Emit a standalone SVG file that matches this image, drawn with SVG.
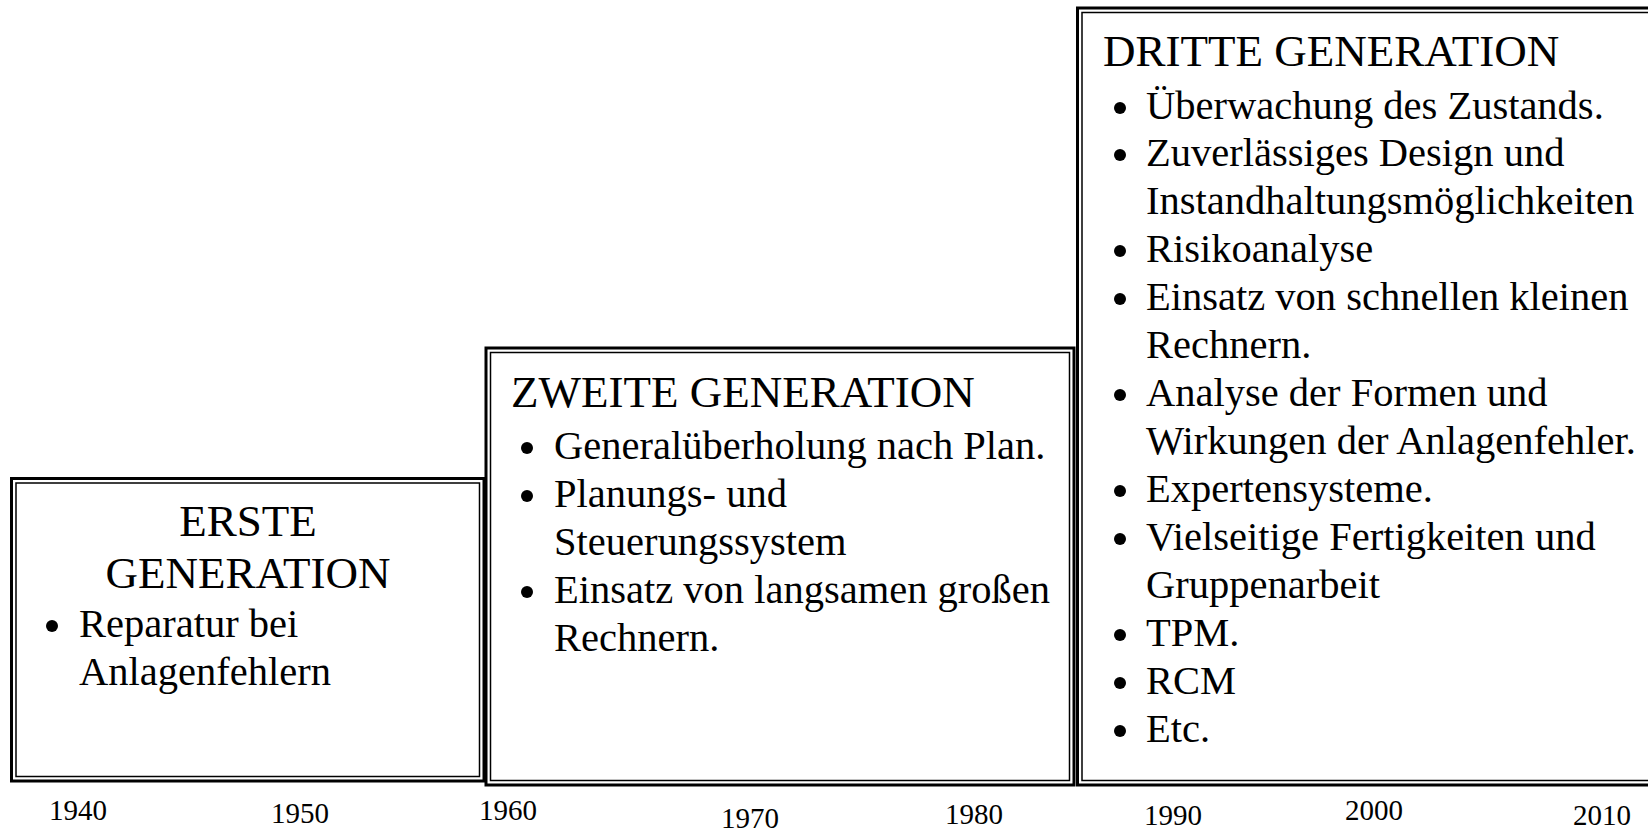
<svg xmlns="http://www.w3.org/2000/svg" width="1648" height="835" viewBox="0 0 1648 835">
<style>
.o{fill:none;stroke:#000;stroke-width:3}
.i{fill:none;stroke:#000;stroke-width:1.5}
text{font-family:"Liberation Serif","Times New Roman",serif;fill:#000}
.t{font-size:45px}
.b{font-size:40.5px}
.y{font-size:29px}
.d{fill:#000}
</style>
<rect width="1648" height="835" fill="#fff"/>
<g id="erste">
<rect class="o" x="11.5" y="478.5" width="472.5" height="302.5"/>
<rect class="i" x="16" y="483" width="463.5" height="293.5"/>
<text class="t" x="248" y="536" text-anchor="middle">ERSTE</text>
<text class="t" x="248" y="588" text-anchor="middle">GENERATION</text>
<circle class="d" cx="52" cy="626" r="6"/>
<text class="b" x="79" y="637">Reparatur bei</text>
<text class="b" x="79" y="685">Anlagenfehlern</text>
</g>
<g id="zweite">
<rect class="o" x="486" y="348" width="588" height="437"/>
<rect class="i" x="490.5" y="352.5" width="579" height="428"/>
<text class="t" x="511" y="407">ZWEITE GENERATION</text>
<circle class="d" cx="527" cy="448" r="6"/>
<text class="b" x="554" y="459">Generalüberholung nach Plan.</text>
<circle class="d" cx="527" cy="496" r="6"/>
<text class="b" x="554" y="507">Planungs- und</text>
<text class="b" x="554" y="555">Steuerungssystem</text>
<circle class="d" cx="527" cy="592" r="6"/>
<text class="b" x="554" y="603">Einsatz von langsamen großen</text>
<text class="b" x="554" y="651">Rechnern.</text>
</g>
<g id="dritte">
<rect class="o" x="1077.5" y="8" width="640" height="777"/>
<rect class="i" x="1082" y="12.5" width="640" height="768"/>
<text class="t" x="1103" y="66">DRITTE GENERATION</text>
<circle class="d" cx="1120" cy="108" r="6"/>
<text class="b" x="1146" y="119">Überwachung des Zustands.</text>
<circle class="d" cx="1120" cy="155" r="6"/>
<text class="b" x="1146" y="166">Zuverlässiges Design und</text>
<text class="b" x="1146" y="214">Instandhaltungsmöglichkeiten</text>
<circle class="d" cx="1120" cy="251" r="6"/>
<text class="b" x="1146" y="262">Risikoanalyse</text>
<circle class="d" cx="1120" cy="299" r="6"/>
<text class="b" x="1146" y="310">Einsatz von schnellen kleinen</text>
<text class="b" x="1146" y="358">Rechnern.</text>
<circle class="d" cx="1120" cy="395" r="6"/>
<text class="b" x="1146" y="406">Analyse der Formen und</text>
<text class="b" x="1146" y="454">Wirkungen der Anlagenfehler.</text>
<circle class="d" cx="1120" cy="491" r="6"/>
<text class="b" x="1146" y="502">Expertensysteme.</text>
<circle class="d" cx="1120" cy="539" r="6"/>
<text class="b" x="1146" y="550">Vielseitige Fertigkeiten und</text>
<text class="b" x="1146" y="598">Gruppenarbeit</text>
<circle class="d" cx="1120" cy="635" r="6"/>
<text class="b" x="1146" y="646">TPM.</text>
<circle class="d" cx="1120" cy="683" r="6"/>
<text class="b" x="1146" y="694">RCM</text>
<circle class="d" cx="1120" cy="731" r="6"/>
<text class="b" x="1146" y="742">Etc.</text>
</g>
<g id="years">
<text class="y" x="49" y="820">1940</text>
<text class="y" x="271" y="823">1950</text>
<text class="y" x="479" y="820">1960</text>
<text class="y" x="721" y="828">1970</text>
<text class="y" x="945" y="824">1980</text>
<text class="y" x="1144" y="825">1990</text>
<text class="y" x="1345" y="820">2000</text>
<text class="y" x="1573" y="825">2010</text>
</g>
<g id="connectors"></g>
</svg>
